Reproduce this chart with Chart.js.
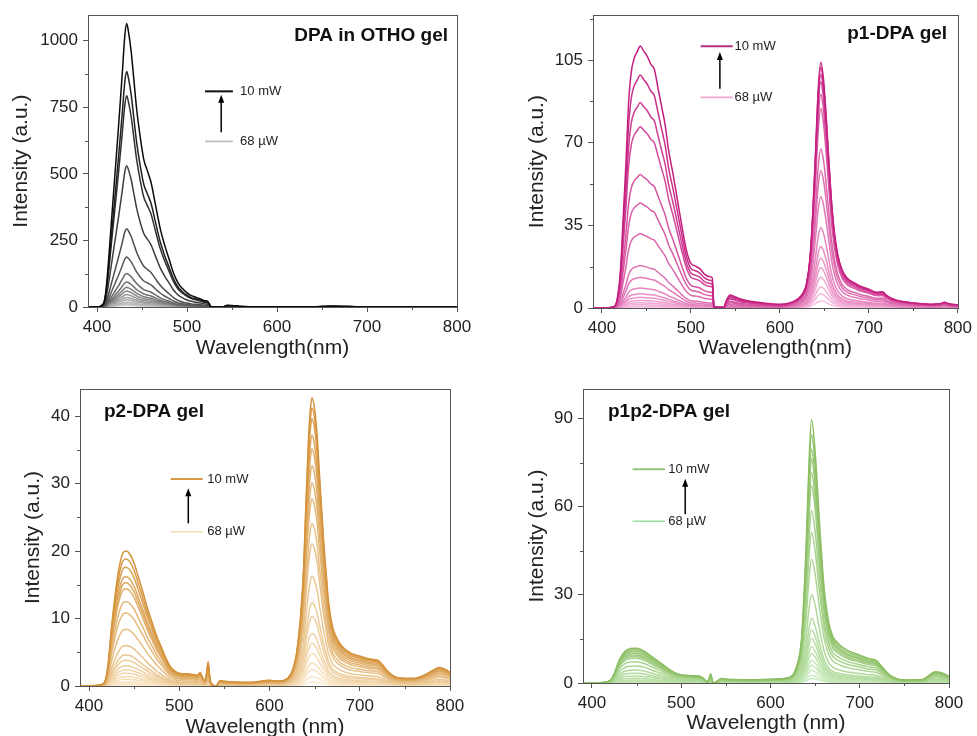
<!DOCTYPE html>
<html>
<head>
<meta charset="utf-8">
<script src="https://cdn.jsdelivr.net/npm/chart.js@4.4.0/dist/chart.umd.min.js"></script>
<style>
html,body{margin:0;padding:0;background:#fff;width:977px;height:736px;overflow:hidden;}
canvas{position:absolute;left:0;top:0;}
</style>
</head>
<body>
<canvas id="c1" width="977" height="800"></canvas>
<canvas id="c2" width="977" height="800"></canvas>
<canvas id="c3" width="977" height="800"></canvas>
<canvas id="c4" width="977" height="800"></canvas>
<script>
// tick labels
const xTicks = [400,500,600,700,800];
const yTicks1 = [0,250,500,750,1000];
const yTicks2 = [0,35,70,105];
const yTicks3 = [0,10,20,30,40];
const yTicks4 = [0,30,60,90];

// ---- DPA in OTHO gel : blue band only ----
const wl1 = [390,400,405,408,410,413,416,420,424,428,
             431,433,435,438,441,444,448,452,456,460,
             465,470,475,480,485,490,495,500,505,510,
             515,520,523,525,527,540,545,550,555,560,
             580,600,640,660,680,700,740,800];
const blue1 = [0,0,0.005,0.02,0.06,0.17,0.3,0.47,0.64,0.82,
               0.96,1,0.97,0.9,0.8,0.7,0.6,0.52,0.48,0.44,
               0.36,0.28,0.22,0.17,0.12,0.085,0.065,0.05,0.04,0.034,
               0.028,0.022,0.02,0.01,0,0,0.006,0.005,0.004,0.002,
               0.001,0.001,0.001,0.003,0.002,0,0,0];
// peak height of each curve, 10 mW -> 68 µW
const peaks1 = [1065,885,793,531,294,188,126,94,74,60,47,36,27,18,12,7];

// ---- p1-DPA gel ----
const wl2 = [390,405,410,415,418,421,424,427,430,433,
             436,440,443,447,451,455,459,463,467,471,
             475,480,485,490,495,500,505,510,515,520,
             524,526,530,537,540,544,548,555,565,575,
             590,600,610,620,626,630,634,637,640,643,
             646,649,652,655,658,661,665,670,675,680,
             685,690,695,700,705,710,715,720,725,730,
             740,750,760,770,780,785,790,800];
const blue2 = [0,0,0.002,0.01,0.05,0.15,0.35,0.55,0.78,0.9,
               0.95,0.98,1,0.98,0.96,0.93,0.91,0.84,0.77,0.7,
               0.6,0.51,0.41,0.31,0.22,0.17,0.16,0.15,0.13,0.12,
               0.115,0.005,0.003,0.003,0.03,0.05,0.045,0.035,0.027,0.022,
               0.016,0.014,0.012,0.011,0.01,0.01,0.01,0.01,0.01,0.01,
               0.01,0.01,0.01,0.01,0.01,0.01,0.01,0.01,0.01,0.01,
               0.008,0.008,0.007,0.007,0.006,0.006,0.006,0.006,0.005,0.005,
               0.005,0.005,0.005,0.005,0.005,0.005,0.005,0.005];
const red2 = [0,0,0,0,0,0,0,0,0,0,
              0,0,0,0,0,0,0,0,0,0,
              0,0,0,0,0,0,0,0,0,0,
              0,0,0,0,0,0,0,0,0,0,
              0,0,0.007,0.025,0.05,0.09,0.2,0.38,0.62,0.88,
              1,0.93,0.78,0.6,0.43,0.31,0.21,0.145,0.115,0.1,
              0.092,0.082,0.076,0.07,0.062,0.058,0.06,0.045,0.035,0.028,
              0.02,0.015,0.012,0.01,0.012,0.018,0.012,0.008];
const bluePeaks2 = [111,98.7,87,76.8,56.5,44.5,31.5,18,13,8.5,6,4.5,3.2,2.2,1.4,0.8,0.4];
const redPeaks2  = [103,101,98,95,90,84,67,58,47,34,26,21,17,13,9,6,3];

// ---- p2-DPA gel ----
const wl3 = [390,410,415,418,421,425,428,431,435,438,
             441,445,450,455,460,465,470,475,480,485,
             490,495,500,505,510,515,520,523,526,529,
             532,534,537,541,545,550,560,580,600,610,
             620,626,630,635,638,640,643,645,647,650,
             653,655,658,660,663,665,670,675,680,690,
             700,710,720,725,730,740,750,760,770,780,
             788,795,800];
const blue3 = [0,0.005,0.015,0.04,0.15,0.44,0.62,0.78,0.93,0.99,
               1,0.98,0.91,0.8,0.69,0.57,0.47,0.37,0.29,0.21,
               0.145,0.11,0.095,0.09,0.09,0.085,0.08,0.1,0.06,0.04,
               0.18,0.05,0.01,0,0.04,0.035,0.03,0.027,0.025,0.015,
               0.01,0.01,0.01,0.01,0.01,0.01,0.01,0.01,0.01,0.01,
               0.01,0.01,0.01,0.01,0.01,0.01,0.01,0.01,0.01,0.01,
               0.01,0.01,0.01,0.01,0.01,0.01,0.01,0.01,0.01,0.01,
               0.01,0.01,0.01];
const red3 = [0,0,0,0,0,0,0,0,0,0,
              0,0,0,0,0,0,0,0,0,0,
              0,0,0,0,0,0,0,0,0,0,
              0,0,0,0,0,0,0,0,0.008,0.01,
              0.022,0.055,0.11,0.26,0.42,0.6,0.84,0.95,1,0.96,
              0.86,0.75,0.6,0.5,0.38,0.3,0.2,0.16,0.135,0.11,
              0.1,0.09,0.085,0.07,0.05,0.026,0.022,0.022,0.031,0.048,
              0.06,0.053,0.043];
const bluePeaks3 = [20,18.8,17.6,16.2,15.3,14.4,12.5,10.8,8.4,6,4.6,3.8,3,2.4,1.9,1.4,1,0.6,0.35,0.15];
const redPeaks3  = [42.5,41,39.4,37,35,32.5,30,27.6,24,21,16.2,12.3,10.3,7.8,6.3,4.8,3.4,2.4,1.4,0.6];

// ---- p1p2-DPA gel ----
const wl4 = [390,410,418,422,425,430,435,440,448,455,
             460,465,470,475,480,485,490,495,500,505,
             512,520,525,529,531,533,535,537,541,545,
             550,560,580,600,620,630,635,640,643,646,
             650,655,660,665,670,675,680,690,695,700,
             710,718,725,735,750,770,785,792,800];
const blue4 = [0,0.01,0.04,0.12,0.27,0.62,0.85,0.97,1,0.97,
               0.9,0.8,0.7,0.62,0.52,0.42,0.34,0.27,0.24,0.22,
               0.21,0.2,0.13,0.03,0.1,0.26,0.05,0,0.06,0.13,
               0.11,0.1,0.09,0.085,0.06,0.05,0.05,0.05,0.05,0.05,
               0.05,0.05,0.05,0.05,0.05,0.05,0.05,0.05,0.05,0.05,
               0.05,0.05,0.05,0.04,0.04,0.04,0.04,0.04,0.04];
const red4 = [0,0,0,0,0,0,0,0,0,0,
              0,0,0,0,0,0,0,0,0,0,
              0,0,0,0,0,0,0,0,0,0,
              0,0,0,0.003,0.012,0.065,0.17,0.52,0.82,1,
              0.88,0.6,0.36,0.23,0.17,0.148,0.132,0.112,0.106,0.1,
              0.087,0.081,0.055,0.022,0.006,0.008,0.038,0.033,0.02];
const bluePeaks4 = [11.8,11.3,10.7,10.1,9.5,9,8.4,7.2,5.8,4.4,3.3,2.4,1.6,1,0.6,0.4,0.25,0.15,0.1,0.05];
const redPeaks4  = [89,84,79,75.8,71,66.7,58.2,50.8,41.8,29.9,21.9,17.9,15.1,12.3,10,7.7,6,4.3,2.6,1.5];

const FONT = 'Arial, "Liberation Sans", sans-serif';
const TXT = '#222';

function mix(a,b,t){
  return 'rgb(' + a.map((v,k)=>Math.round(v+(b[k]-v)*t)).join(',') + ')';
}

// one dataset per excitation power
function buildSets(wl, blue, red, bPeaks, rPeaks, dark, light){
  const n = bPeaks.length;
  const sets = [];
  for (let i=0;i<n;i++){
    const t = i/(n-1);
    sets.push({
      data: wl.map((w,k)=>({x:w, y: blue[k]*bPeaks[i] + (red ? red[k]*rPeaks[i] : 0)})),
      borderColor: mix(dark, light, Math.pow(t,0.8)),
      borderWidth: 1.5,
      pointRadius: 0,
      fill: false,
      cubicInterpolationMode: 'monotone'
    });
  }
  return sets;
}

// frame, minor ticks, panel label, power legend
const deco = {
  id: 'deco',
  afterDraw(chart, args, o){
    const {ctx, chartArea:a, scales:{x, y}} = chart;
    ctx.save();
    ctx.strokeStyle = '#555';
    ctx.lineWidth = 1;
    ctx.strokeRect(Math.round(a.left)+0.5, Math.round(a.top)+0.5, Math.round(a.right-a.left), Math.round(a.bottom-a.top));
    ctx.beginPath();
    o.xMinor.forEach(v=>{ const p = Math.round(x.getPixelForValue(v))+0.5; ctx.moveTo(p, a.bottom); ctx.lineTo(p, a.bottom+3); });
    o.yMinor.forEach(v=>{ const p = Math.round(y.getPixelForValue(v))+0.5; ctx.moveTo(a.left, p); ctx.lineTo(a.left-3, p); });
    ctx.stroke();

    // panel label
    ctx.fillStyle = '#111';
    ctx.font = 'bold 19px ' + FONT;
    ctx.textBaseline = 'middle';
    ctx.textAlign = o.labelAlign;
    ctx.fillText(o.label, x.getPixelForValue(o.labelAt[0]), y.getPixelForValue(o.labelAt[1]));

    // legend lines
    const L = o.legend;
    const x0 = x.getPixelForValue(L.x0), x1 = x.getPixelForValue(L.x1), xt = x.getPixelForValue(L.xt);
    const yh = y.getPixelForValue(L.yHigh), yl = y.getPixelForValue(L.yLow);
    ctx.lineWidth = 2; ctx.strokeStyle = L.cHigh;
    ctx.beginPath(); ctx.moveTo(x0, yh); ctx.lineTo(x1, yh); ctx.stroke();
    ctx.lineWidth = 1.6; ctx.strokeStyle = L.cLow;
    ctx.beginPath(); ctx.moveTo(x0, yl); ctx.lineTo(x1, yl); ctx.stroke();
    ctx.font = '13px ' + FONT;
    ctx.textAlign = 'left';
    ctx.fillStyle = TXT;
    ctx.fillText('10 mW', xt, yh);
    ctx.fillText('68 µW', xt, yl);

    // arrow
    const xa = x.getPixelForValue(L.xa), ytip = y.getPixelForValue(L.tip), ytail = y.getPixelForValue(L.tail);
    ctx.strokeStyle = '#000'; ctx.fillStyle = '#000'; ctx.lineWidth = 1.5;
    ctx.beginPath(); ctx.moveTo(xa, ytail); ctx.lineTo(xa, ytip+5); ctx.stroke();
    ctx.beginPath(); ctx.moveTo(xa, ytip); ctx.lineTo(xa-3, ytip+8); ctx.lineTo(xa+3, ytip+8); ctx.closePath(); ctx.fill();
    ctx.restore();
  }
};

function makePanel(id, p){
  const lh = 21*1.2;
  const W = 80, H = 60, CH = 800;
  return new Chart(document.getElementById(id), {
    type: 'line',
    data: {datasets: p.sets},
    options: {
      responsive: false,
      animation: false,
      devicePixelRatio: 1,
      events: [],
      layout: {padding: {left: p.box[0]-W, top: p.box[1], right: 977-p.box[2], bottom: CH-p.box[3]-H}},
      plugins: {
        legend: {display: false},
        tooltip: {enabled: false},
        deco: p.deco
      },
      scales: {
        x: {
          type: 'linear', min: 390, max: 800,
          afterBuildTicks: s => { s.ticks = xTicks.map(v=>({value: v})); },
          ticks: {maxRotation: 0, padding: 5, color: TXT, font: {family: FONT, size: 17}, callback: v => String(v)},
          grid: {drawOnChartArea: false, tickLength: 5, tickColor: '#555', color: '#555'},
          border: {display: false},
          title: {display: true, text: p.xTitle, color: TXT, font: {family: FONT, size: 21},
                  padding: {top: 0, bottom: p.box[3]+H-p.xTitleY-lh/2}},
          afterFit: s => { s.height = H; }
        },
        y: {
          min: 0, max: p.yMax,
          afterBuildTicks: s => { s.ticks = p.yTicks.map(v=>({value: v})); },
          ticks: {padding: 5, color: TXT, font: {family: FONT, size: 17}, callback: v => String(v)},
          grid: {drawOnChartArea: false, tickLength: 5, tickColor: '#555', color: '#555'},
          border: {display: false},
          title: {display: true, text: 'Intensity (a.u.)', color: TXT, font: {family: FONT, size: 21},
                  padding: {top: p.yTitleX-(p.box[0]-W)-lh/2, bottom: 0}},
          afterFit: s => { s.width = W; }
        }
      }
    },
    plugins: [deco]
  });
}

makePanel('c1', {
  sets: buildSets(wl1, blue1, null, peaks1, null, [10,10,10], [200,200,200]),
  box: [88, 11, 457, 307], yMax: 1096, yTicks: yTicks1,
  xTitle: 'Wavelength(nm)', xTitleY: 348, yTitleX: 21,
  deco: {
    xMinor: [450,550,650,750], yMinor: [125,375,625,875],
    label: 'DPA in OTHO gel', labelAlign: 'right', labelAt: [790, 1018],
    legend: {x0: 520, x1: 551, xt: 559, yHigh: 810, yLow: 622, xa: 538, tip: 797, tail: 656,
             cHigh: '#111', cLow: '#bbb'}
  }
});

makePanel('c2', {
  sets: buildSets(wl2, blue2, red2, bluePeaks2, redPeaks2, [196,30,128], [248,192,226]),
  box: [593, 12, 962, 308], yMax: 124, yTicks: yTicks2,
  xTitle: 'Wavelength(nm)', xTitleY: 348, yTitleX: 537,
  deco: {
    xMinor: [450,550,650,750], yMinor: [17.5,52.5,87.5,122.5],
    label: 'p1-DPA gel', labelAlign: 'right', labelAt: [788, 116.3],
    legend: {x0: 511, x1: 547, xt: 549, yHigh: 110.8, yLow: 89.2, xa: 532.6, tip: 108.4, tail: 92.9,
             cHigh: '#b5307e', cLow: '#f2a6d2'}
  }
});

makePanel('c3', {
  sets: buildSets(wl3, blue3, red3, bluePeaks3, redPeaks3, [212,146,58], [250,234,205]),
  box: [80, 389, 450, 686], yMax: 44, yTicks: yTicks3,
  xTitle: 'Wavelength (nm)', xTitleY: 727, yTitleX: 33,
  deco: {
    xMinor: [450,550,650,750], yMinor: [5,15,25,35],
    label: 'p2-DPA gel', labelAlign: 'left', labelAt: [416.6, 40.6],
    legend: {x0: 490.5, x1: 526, xt: 531, yHigh: 30.67, yLow: 22.86, xa: 510, tip: 29.3, tail: 24.1,
             cHigh: '#d49a48', cLow: '#f5dcb5'}
  }
});

makePanel('c4', {
  sets: buildSets(wl4, blue4, red4, bluePeaks4, redPeaks4, [140,190,100], [205,238,195]),
  box: [583, 389, 949, 683], yMax: 100, yTicks: yTicks4,
  xTitle: 'Wavelength (nm)', xTitleY: 723, yTitleX: 537,
  deco: {
    xMinor: [450,550,650,750], yMinor: [15,45,75],
    label: 'p1p2-DPA gel', labelAlign: 'left', labelAt: [418, 92.4],
    legend: {x0: 445.6, x1: 481.8, xt: 485.5, yHigh: 72.7, yLow: 55, xa: 504.5, tip: 69.5, tail: 57.4,
             cHigh: '#98c278', cLow: '#96e0a4'}
  }
});
</script>
</body>
</html>
